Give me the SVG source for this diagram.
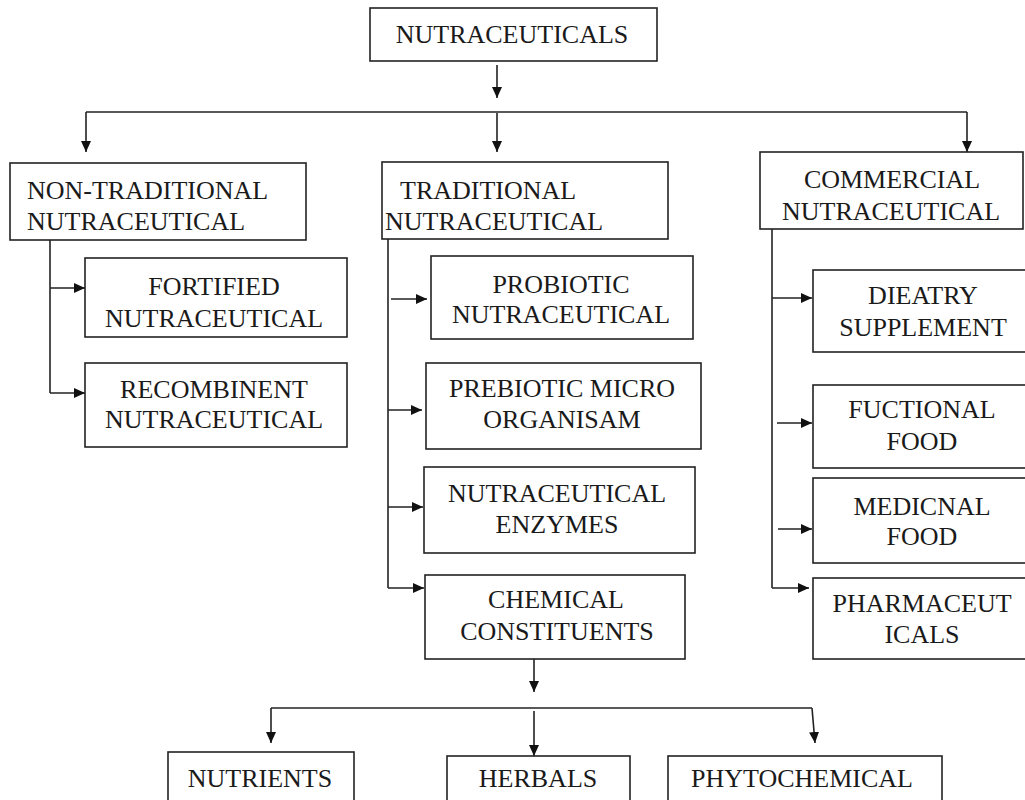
<svg xmlns="http://www.w3.org/2000/svg" width="1025" height="800" viewBox="0 0 1025 800">
<style>
.box{fill:#fff;stroke:#222;stroke-width:1.6}
.t{font-family:"Liberation Serif","Times New Roman",serif;font-size:26px;fill:#1a1a1a}
.c{text-anchor:middle}
.ln{fill:none;stroke:#222;stroke-width:1.6}
.ar{fill:none;stroke:#222;stroke-width:1.6;marker-end:url(#ah)}
</style>
<defs>
<marker id="ah" markerUnits="userSpaceOnUse" markerWidth="12" markerHeight="10" refX="11" refY="5" orient="auto">
<path d="M0,0 L11,5 L0,10 z" fill="#111"/>
</marker>
</defs>
<rect width="1025" height="800" fill="#fff"/>
<g id="connectors">
<line class="ar" x1="497" y1="65" x2="497" y2="98"/>
<line class="ln" x1="86" y1="112" x2="967" y2="112"/>
<line class="ar" x1="86" y1="112" x2="86" y2="152"/>
<line class="ar" x1="497" y1="113" x2="497" y2="152"/>
<line class="ar" x1="967" y1="112" x2="967" y2="152"/>
<line class="ln" x1="50" y1="240" x2="50" y2="393"/>
<line class="ar" x1="50" y1="288" x2="85" y2="288"/>
<line class="ar" x1="50" y1="393" x2="85" y2="393"/>
<line class="ln" x1="388" y1="239" x2="388" y2="588"/>
<line class="ar" x1="391" y1="299" x2="427" y2="299"/>
<line class="ar" x1="388" y1="410" x2="422" y2="410"/>
<line class="ar" x1="388" y1="507" x2="423" y2="507"/>
<line class="ar" x1="388" y1="588" x2="424" y2="588"/>
<line class="ln" x1="772" y1="229" x2="772" y2="588"/>
<line class="ar" x1="772" y1="298" x2="812" y2="298"/>
<line class="ar" x1="777" y1="423" x2="812" y2="423"/>
<line class="ar" x1="778" y1="529" x2="812" y2="529"/>
<line class="ar" x1="772" y1="588" x2="809" y2="588"/>
<line class="ar" x1="534" y1="659" x2="534" y2="692"/>
<line class="ln" x1="271" y1="708" x2="812" y2="708"/>
<line class="ar" x1="271" y1="708" x2="271" y2="743"/>
<line class="ar" x1="534" y1="711" x2="534" y2="756"/>
<polyline class="ar" points="812,708 815,743"/>
</g>
<g id="n-root"><rect class="box" x="370" y="8" width="287" height="53"/><text class="t c" x="512" y="43">NUTRACEUTICALS</text></g>
<g id="n-nontrad"><rect class="box" x="10" y="163" width="296" height="77"/><text class="t" x="27" y="199">NON-TRADITIONAL</text><text class="t" x="27" y="230">NUTRACEUTICAL</text></g>
<g id="n-trad"><rect class="box" x="382" y="162" width="286" height="77"/><text class="t" x="400" y="199">TRADITIONAL</text><text class="t" x="385" y="230">NUTRACEUTICAL</text></g>
<g id="n-comm"><rect class="box" x="760" y="152" width="263" height="77"/><text class="t c" x="892" y="188">COMMERCIAL</text><text class="t c" x="891" y="220">NUTRACEUTICAL</text></g>
<g id="n-fortified"><rect class="box" x="85" y="258" width="262" height="79"/><text class="t c" x="214" y="295">FORTIFIED</text><text class="t c" x="214" y="327">NUTRACEUTICAL</text></g>
<g id="n-recomb"><rect class="box" x="85" y="363" width="262" height="84"/><text class="t c" x="214" y="398">RECOMBINENT</text><text class="t c" x="214" y="428">NUTRACEUTICAL</text></g>
<g id="n-probiotic"><rect class="box" x="431" y="256" width="262" height="83"/><text class="t c" x="561" y="293">PROBIOTIC</text><text class="t c" x="561" y="323">NUTRACEUTICAL</text></g>
<g id="n-prebiotic"><rect class="box" x="426" y="363" width="275" height="86"/><text class="t c" x="562" y="397">PREBIOTIC MICRO</text><text class="t c" x="562" y="428">ORGANISAM</text></g>
<g id="n-enzymes"><rect class="box" x="424" y="467" width="271" height="86"/><text class="t c" x="557" y="502">NUTRACEUTICAL</text><text class="t c" x="557" y="533">ENZYMES</text></g>
<g id="n-chemical"><rect class="box" x="425" y="575" width="260" height="84"/><text class="t c" x="556" y="608">CHEMICAL</text><text class="t c" x="557" y="640">CONSTITUENTS</text></g>
<g id="n-dietary"><rect class="box" x="813" y="270" width="220" height="82"/><text class="t c" x="923" y="304">DIEATRY</text><text class="t c" x="923" y="336">SUPPLEMENT</text></g>
<g id="n-functional"><rect class="box" x="813" y="385" width="220" height="83"/><text class="t c" x="922" y="418">FUCTIONAL</text><text class="t c" x="922" y="450">FOOD</text></g>
<g id="n-medicnal"><rect class="box" x="813" y="478" width="220" height="85"/><text class="t c" x="922" y="515">MEDICNAL</text><text class="t c" x="922" y="545">FOOD</text></g>
<g id="n-pharma"><rect class="box" x="813" y="578" width="220" height="81"/><text class="t c" x="922" y="612">PHARMACEUT</text><text class="t c" x="922" y="643">ICALS</text></g>
<g id="n-nutrients"><rect class="box" x="168" y="752" width="186" height="60"/><text class="t c" x="260" y="787">NUTRIENTS</text></g>
<g id="n-herbals"><rect class="box" x="447" y="756" width="183" height="60"/><text class="t c" x="538" y="787">HERBALS</text></g>
<g id="n-phyto"><rect class="box" x="668" y="756" width="274" height="60"/><text class="t c" x="802" y="787">PHYTOCHEMICAL</text></g>
</svg>
